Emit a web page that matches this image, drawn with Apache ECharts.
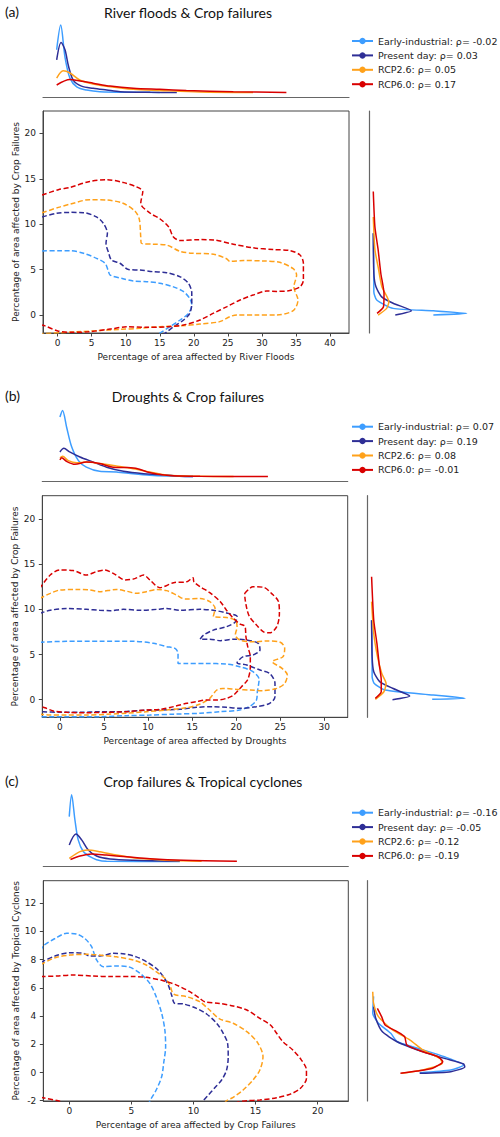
<!DOCTYPE html>
<html><head><meta charset="utf-8">
<script src="https://cdn.jsdelivr.net/npm/echarts@6/dist/echarts.min.js"></script>
<style>html,body{margin:0;padding:0;background:#fff}#c{width:500px;height:1137px}</style>
</head><body><div id="c"></div>
<script>
const scenarios = ['Early-industrial', 'Present day', 'RCP2.6', 'RCP6.0'];
const colors = ['#3d9dff', '#2e2e96', '#ffa11a', '#d90000'];
const panelLabels = ['(a)', '(b)', '(c)'];
const panelTitles = ['River floods & Crop failures', 'Droughts & Crop failures', 'Crop failures & Tropical cyclones'];
const xAxisNames = ['Percentage of area affected by River Floods', 'Percentage of area affected by Droughts', 'Percentage of area affected by Crop Failures'];
const yAxisNames = ['Percentage of area affected by Crop Failures', 'Percentage of area affected by Crop Failures', 'Percentage of area affected by Tropical Cyclones'];
const rhoA = ['-0.02', '0.03', '0.05', '0.17'];
const rhoB = ['0.07', '0.19', '0.08', '-0.01'];
const rhoC = ['-0.16', '-0.05', '-0.12', '-0.19'];
const xTicksA = [0, 5, 10, 15, 20, 25, 30, 35, 40];
const yTicksA = [0, 5, 10, 15, 20];
const xTicksB = [0, 5, 10, 15, 20, 25, 30];
const yTicksB = [0, 5, 10, 15, 20];
const xTicksC = [0, 5, 10, 15, 20];
const yTicksC = [-2, 0, 2, 4, 6, 8, 10, 12];

// ---- Panel (a) contours
const aContourEarly = [[-2.3,7.05],[0.1,7.08],[1.8,7.08],[3.8,6.8],[5.7,6.24],[6.95,5.7],[7.4,4.95],[7.7,4.4],[9.6,4.0],[11.1,3.74],[13.1,3.67],[15,3.5],[17,3.1],[18.5,2.57],[19.4,1.83],[19.7,1.1],[19.2,0.18],[18,-0.55],[16.5,-1.28],[15,-2.0],[14.6,-2.2]];
const aContourPresent = [[-2.3,10.8],[-0.15,11.2],[1.8,11.3],[3.8,11.27],[5.7,10.8],[6.7,10.1],[7.3,9.0],[7.1,7.9],[7.5,6.8],[7.9,6.05],[9.15,5.7],[10.4,5.0],[12.1,4.95],[14,4.77],[16,4.66],[18,4.2],[19.2,3.5],[19.7,2.4],[19.7,1.3],[19.4,0.18],[18.5,-0.55],[17,-1.3],[15.8,-2.0],[15.5,-2.2]];
const aContourRcp26 = [[-2.3,11.25],[0.1,11.85],[1.8,12.2],[4.7,12.7],[7.2,12.66],[9.6,12.3],[11.4,11.4],[12,10.5],[12.2,8.6],[12.3,7.9],[14,7.8],[16,7.7],[18,7.0],[19.9,6.8],[22.9,6.7],[24.8,6.2],[25.3,5.9],[27.3,6.0],[30.2,5.95],[32.6,5.8],[34.6,5.1],[35.1,4.4],[34.7,3.1],[35.3,1.65],[34.6,0.48],[32.2,0],[29.2,0],[26.3,0],[25.3,-0.18],[23.8,-0.73],[20.9,-1.0],[18,-1.2],[15,-1.28],[12.1,-1.47],[9.2,-1.58],[6.2,-1.7],[2.8,-1.85],[0.5,-1.95],[-2.3,-2.05]];
const aContourRcp60 = [[-2.3,13.2],[0.1,13.8],[1.8,14.05],[4.7,14.7],[7.2,14.9],[9.6,14.6],[11.6,14.1],[12.5,13.6],[12.2,12.3],[13.6,11.2],[15.0,10.6],[16.3,9.7],[17,8.6],[18,8.2],[20.9,8.3],[22.9,8.26],[25.8,7.8],[28.7,7.4],[31.7,7.2],[34.1,7.1],[35.6,6.6],[36.1,5.7],[36.1,3.85],[35.6,3.1],[34.1,2.7],[32.2,2.6],[30.7,2.64],[28.7,2.2],[26.8,1.65],[24.8,0.9],[22.9,0.2],[20.9,-0.55],[18.5,-1.1],[16,-1.3],[13.1,-1.36],[10.1,-1.3],[7.7,-1.55],[4.5,-1.85],[2,-1.9],[0,-1.75],[-1.86,-1.2],[-2.3,-1.1]];
// ---- Panel (a) marginals
const aTopEarly = [[-0.15,0.59],[0.44,0.93],[1.07,0.49],[1.8,0.2],[2.8,0.08],[4.25,0.036],[6.2,0.013],[11.1,0.005],[15,0.003]];
const aTopPresent = [[-0.15,0.45],[0.5,0.69],[1.07,0.59],[1.6,0.36],[2.3,0.17],[3.5,0.09],[5.2,0.06],[7.2,0.036],[9.2,0.013],[13.6,0.004],[17.5,0.002]];
const aTopRcp26 = [[-0.15,0.2],[0.8,0.3],[1.8,0.27],[3.3,0.17],[5.2,0.12],[7.7,0.08],[11.1,0.045],[15,0.03],[20.9,0.01],[28.7,0.003]];
const aTopRcp60 = [[-0.15,0.105],[1.8,0.18],[3.3,0.16],[5.2,0.13],[7.7,0.09],[11.1,0.06],[15,0.045],[18.9,0.03],[25.8,0.012],[33.6,0.003]];
const aRightEarly = [[0.005,9.0],[0.01,4.6],[0.01,2.57],[0.037,1.65],[0.19,0.73],[0.565,0.47],[0.876,0.18],[0.565,0]];
const aRightPresent = [[0.005,9.0],[0.01,4.6],[0.03,3.1],[0.083,2.0],[0.19,1.29],[0.36,0.47],[0.21,0]];
const aRightRcp26 = [[0.005,10.8],[0.02,7.2],[0.05,5.3],[0.085,3.1],[0.15,1.47],[0.13,0.73],[0.05,0]];
const aRightRcp60 = [[0.005,13.6],[0.02,9.7],[0.05,7.2],[0.075,4.6],[0.105,2.35],[0.1,0.91],[0.04,0.18]];

// ---- Panel (b) contours
const bContourEarly = [[-2.3,6.35],[0.76,6.46],[4.5,6.46],[8.3,6.46],[10.6,6.24],[12.1,5.87],[13.05,5.68],[13.4,5.13],[13.4,4.0],[14.4,4.0],[16.6,4.0],[18.9,3.95],[20.4,3.65],[21.9,3.1],[22.6,2.25],[22.5,1.44],[22.4,0.89],[22.3,-0.04],[21.6,-0.7],[20.4,-1.14],[18.2,-1.33],[15.9,-1.5],[12.9,-1.6],[10.2,-1.7],[7.6,-1.77],[4.5,-1.88],[0.76,-1.88],[-2.3,-1.88]];
const bContourPresent = [[-2.3,9.55],[-1.1,9.9],[0.76,10.1],[3,10.0],[4.5,9.9],[5.7,9.85],[7.2,10.0],[9.1,9.9],[11,10.0],[12.1,10.1],[13.6,9.9],[15.9,10.0],[17.4,9.9],[18.9,9.6],[20.1,9.2],[19.9,8.6],[18.9,8.08],[17.4,7.7],[16.3,7.16],[15.9,6.7],[17,6.7],[18.2,6.53],[19.7,6.7],[21.2,6.6],[22.5,6.24],[22.7,5.5],[21.9,4.94],[20.8,4.76],[20.1,4.1],[21.2,3.84],[22.7,3.28],[23.8,2.9],[24.4,1.8],[24.4,0.33],[23.8,-0.4],[22.3,-0.77],[20.4,-0.96],[18.9,-0.85],[17.4,-0.77],[15.5,-0.85],[13.6,-1.07],[11.35,-1.14],[9.1,-1.2],[6.8,-1.33],[4.5,-1.33],[2.3,-1.4],[0,-1.4],[-1.9,-1.33],[-2.3,-1.3]];
const bContourRcp26 = [[-2.3,11.2],[-1.1,11.77],[0,12.14],[1.9,12.2],[3.4,12.14],[4.5,11.96],[6.4,12.2],[7.6,12.0],[8.7,11.77],[9.8,11.96],[11,12.2],[12.1,12.07],[13.2,11.6],[14.2,11.14],[15.9,11.2],[17,10.85],[17.6,10.1],[17.4,9.2],[18.9,9.1],[19.9,8.8],[20.1,8.08],[19.9,7.16],[20.4,6.6],[21.9,6.4],[23.4,6.5],[25,6.35],[25.5,5.7],[25.3,4.76],[24.1,4.2],[25.2,3.47],[25.8,2.73],[25.5,1.8],[24.6,1.25],[23.1,1.0],[21.6,1.07],[20.1,1.14],[18.5,1.25],[17.8,1.07],[17,0.15],[15.9,-0.48],[14.4,-0.89],[12.1,-1.14],[9.8,-1.33],[7.6,-1.5],[5.3,-1.62],[3,-1.7],[0.76,-1.7],[-1.1,-1.7],[-2.3,-1.6]];
const bContourRcp60 = [[-2.3,12.3],[-1.1,13.8],[0,14.35],[1.5,14.3],[3.0,13.8],[4.2,14.2],[5.1,14.35],[6.2,13.9],[7.4,13.25],[8.5,13.4],[9.5,13.8],[10.2,13.25],[11.35,12.4],[12.9,12.95],[14.4,13.06],[15.1,13.5],[15.2,13.06],[15.9,12.5],[17,11.85],[18.2,10.85],[18.9,9.9],[19.7,9.0],[20.4,8.4],[21,8.1],[21.1,7.0],[21.3,5.9],[21.6,4.76],[21.6,3.65],[21.3,2.2],[20.6,1.44],[19.7,0.5],[18.9,0.15],[17.8,-0.04],[16.6,-0.04],[15.5,-0.22],[14.4,-0.4],[12.9,-0.77],[11.35,-1.07],[9.8,-1.14],[7.6,-1.33],[5.3,-1.4],[3.0,-1.44],[0.76,-1.4],[-0.76,-1.25],[-1.7,-0.9],[-2.3,-0.7]];
const bContourRcp60Island = [[20.97,11.77],[21.9,12.5],[23.1,12.44],[24,11.77],[24.8,10.85],[24.9,9.55],[24.6,8.08],[23.8,7.4],[23.1,7.5],[22.3,8.27],[21.5,9.2],[21.2,10.1],[21,11.2],[20.97,11.77]];
// ---- Panel (b) marginals
const bTopEarly = [[0,0.82],[0.3,0.91],[0.76,0.68],[1.33,0.41],[2.1,0.22],[3.0,0.13],[4.5,0.073],[6.4,0.065],[8.3,0.04],[10.2,0.02],[12.1,0.01],[15.1,0.003]];
const bTopPresent = [[0,0.34],[0.45,0.39],[1.1,0.34],[2.27,0.27],[3.8,0.2],[5.3,0.13],[7.2,0.073],[9.5,0.04],[11.3,0.03],[13.6,0.005],[15.1,0.002]];
const bTopRcp26 = [[0,0.26],[0.3,0.28],[0.95,0.22],[1.9,0.19],[3.0,0.2],[4.5,0.18],[6.4,0.146],[8.3,0.11],[10.2,0.065],[12.1,0.02],[15.9,0.005],[19.7,0.002]];
const bTopRcp60 = [[0,0.23],[0.2,0.26],[0.76,0.21],[1.7,0.17],[3.0,0.2],[4.5,0.18],[6.05,0.13],[7.6,0.125],[8.8,0.11],[9.9,0.065],[12.1,0.02],[15.9,0.005],[23.6,0.002]];
const bRightEarly = [[0.005,8.8],[0.01,4.76],[0.01,2.55],[0.03,1.8],[0.13,1.07],[0.58,0.52],[0.877,0.15],[0.57,0.04]];
const bRightPresent = [[0.005,8.8],[0.01,4.76],[0.025,3.1],[0.08,2.0],[0.2,1.26],[0.36,0.41],[0.2,0]];
const bRightRcp26 = [[0.005,10.85],[0.025,7.35],[0.06,4.76],[0.1,2.9],[0.14,1.8],[0.12,0.88],[0.04,0.04]];
const bRightRcp60 = [[0.005,13.6],[0.025,8.8],[0.055,6.2],[0.075,4.0],[0.095,2.2],[0.095,0.88],[0.04,0.15]];

// ---- Panel (c) contours
const cContourEarly = [[-2.3,8.6],[-2.1,8.97],[-1.15,9.5],[-0.2,9.87],[0.6,9.82],[1.26,9.5],[1.8,8.92],[2.2,7.98],[2.74,7.5],[3.8,7.55],[4.75,7.5],[5.7,7.03],[6.5,6.3],[7.0,5.38],[7.44,4.2],[7.7,3.0],[7.76,1.83],[7.6,0.65],[7.44,-0.3],[7.0,-1.24],[6.5,-2.0],[6.4,-2.2]];
const cContourPresent = [[-2.3,7.8],[-1.15,8.26],[0.05,8.5],[1.13,8.45],[1.66,8.26],[2.47,8.26],[3.54,8.45],[4.48,8.4],[5.4,8.2],[6.2,7.86],[7.0,7.39],[7.57,6.8],[7.97,6.2],[8.24,5.5],[8.5,4.9],[9.2,4.86],[10.25,4.55],[11.06,4.15],[11.87,3.49],[12.4,2.78],[12.75,2.07],[12.8,1.12],[12.67,0.18],[12.27,-0.53],[11.7,-1.1],[11.2,-1.6],[10.8,-2.0],[10.7,-2.2]];
const cContourRcp26 = [[-2.3,7.65],[-1.15,8.14],[0.05,8.33],[1.4,8.38],[2.74,8.3],[3.8,8.2],[5.15,7.98],[6.2,7.62],[7.0,7.15],[7.7,6.68],[8.1,6.2],[8.4,5.57],[9.45,5.38],[10.5,5.02],[11.3,4.43],[12.1,3.8],[13.2,3.49],[14.3,2.9],[15.2,2.07],[15.6,1.12],[15.35,0.18],[14.8,-0.53],[14.0,-1.24],[13.2,-1.76],[12.67,-2.0],[12.5,-2.2]];
const cContourRcp60 = [[-2.3,6.8],[-1.0,6.84],[0.32,6.91],[1.93,6.84],[3.27,6.8],[5.15,6.8],[6.2,6.75],[7.57,6.51],[8.64,6.2],[9.7,5.73],[10.5,5.26],[10.9,5.02],[12.1,4.9],[13.2,4.72],[14.3,4.43],[15.35,3.84],[16.2,3.37],[16.7,2.78],[17.2,2.19],[18.0,1.6],[18.7,0.88],[19.1,0.18],[19.1,-0.42],[18.6,-1.13],[17.8,-1.53],[16.7,-1.79],[15.35,-1.95],[14.3,-2.0],[13.5,-2.1]];
const cContourRcp60Corner = [[-2.3,-1.75],[-2.1,-1.79],[-0.9,-2.0],[-0.6,-2.1]];
// ---- Panel (c) marginals
const cTopEarly = [[0,0.62],[0.19,0.92],[0.46,0.57],[0.72,0.3],[1.13,0.14],[1.67,0.068],[2.2,0.027],[3.0,0.005],[8.9,0.002]];
const cTopPresent = [[0,0.23],[0.54,0.38],[1.0,0.3],[1.53,0.16],[2.2,0.077],[3.28,0.036],[5.15,0.018],[8.9,0.005]];
const cTopRcp26 = [[0,0.045],[0.86,0.137],[1.45,0.16],[2.47,0.137],[3.8,0.09],[5.15,0.054],[6.5,0.036],[7.85,0.018],[10.66,0.005]];
const cTopRcp60 = [[0.1,0.03],[0.86,0.077],[1.8,0.105],[3.0,0.09],[4.6,0.068],[6.5,0.04],[9.2,0.018],[13.5,0.005]];
const cRightEarly = [[0.02,5.4],[0.012,4.2],[0.065,3.5],[0.18,2.78],[0.24,2.18],[0.43,1.72],[0.68,1.12],[0.86,0.53],[0.74,0.18],[0.45,-0.01]];
const cRightPresent = [[0.02,4.67],[0.04,3.84],[0.1,2.9],[0.24,2.18],[0.43,1.6],[0.68,1.0],[0.86,0.6],[0.87,0.39],[0.74,0.06],[0.45,-0.06]];
const cRightRcp26 = [[0.012,5.73],[0.02,4.9],[0.065,3.96],[0.2,3.0],[0.36,2.3],[0.48,1.6],[0.64,1.0],[0.66,0.65],[0.48,0.18],[0.28,-0.06]];
const cRightRcp60 = [[0.055,4.55],[0.095,3.96],[0.127,3.37],[0.24,2.9],[0.31,2.54],[0.33,1.95],[0.48,1.47],[0.62,1.12],[0.665,0.77],[0.57,0.3],[0.43,0.1],[0.27,-0.06]];

// ---------------- layout ----------------
const FONT = 'DejaVu Sans';
const panels = [
  { rho: rhoA, xr: [-2.16, 42.8], yr: [-1.98, 22.46], xt: xTicksA, yt: yTicksA,
    main: [43, 111, 306, 222], top: [43, 20, 306, 77], right: [369, 111, 111, 222],
    legendTop: 31, labelY: 12.5, titleX: 188,
    contours: [aContourEarly, aContourPresent, aContourRcp26, aContourRcp60], extra: [],
    tops: [aTopEarly, aTopPresent, aTopRcp26, aTopRcp60], rights: [aRightEarly, aRightPresent, aRightRcp26, aRightRcp60] },
  { rho: rhoB, xr: [-2.0, 32.65], yr: [-1.95, 22.58], xt: xTicksB, yt: yTicksB,
    main: [42.3, 495.7, 305.4, 221.6], top: [42.3, 404, 305.4, 77], right: [367.3, 495.7, 111, 221.6],
    legendTop: 416.7, labelY: 396, titleX: 188,
    contours: [bContourEarly, bContourPresent, bContourRcp26, bContourRcp60], extra: [[bContourRcp60Island, 3]],
    tops: [bTopEarly, bTopPresent, bTopRcp26, bTopRcp60], rights: [bRightEarly, bRightPresent, bRightRcp26, bRightRcp60] },
  { rho: rhoC, xr: [-2.09, 22.47], yr: [-2.02, 13.6], xt: xTicksC, yt: yTicksC,
    main: [43.3, 880.7, 305, 220.3], top: [43.3, 789, 305, 77], right: [367.7, 880.7, 111, 220.3],
    legendTop: 802.7, labelY: 781.7, titleX: 203,
    contours: [cContourEarly, cContourPresent, cContourRcp26, cContourRcp60], extra: [[cContourRcp60Corner, 3]],
    tops: [cTopEarly, cTopPresent, cTopRcp26, cTopRcp60], rights: [cRightEarly, cRightPresent, cRightRcp26, cRightRcp60] }
];

const grid = [], xAxis = [], yAxis = [], series = [], legend = [], graphic = [];
const g = (r) => ({ left: r[0], top: r[1], width: r[2], height: r[3] });
panels.forEach((p, pi) => {
  const base = pi * 3;
  // main
  grid.push(Object.assign(g(p.main), { show: true, borderColor: '#444', borderWidth: 1, backgroundColor: 'transparent' }));
  xAxis.push({ gridIndex: base, type: 'value', min: p.xr[0], max: p.xr[1],
    name: xAxisNames[pi], nameLocation: 'middle', nameGap: 19.5, nameMoveOverlap: false,
    nameTextStyle: { fontFamily: FONT, fontSize: 9, color: '#222' },
    axisLine: { show: true, onZero: false, lineStyle: { color: '#444', width: 1 } },
    axisTick: { show: true, length: 3.5, customValues: p.xt, lineStyle: { color: '#444' } },
    axisLabel: { customValues: p.xt, margin: 5.5, fontFamily: FONT, fontSize: 9, color: '#222' },
    splitLine: { show: false } });
  yAxis.push({ gridIndex: base, type: 'value', min: p.yr[0], max: p.yr[1],
    name: yAxisNames[pi], nameLocation: 'middle', nameGap: 23, nameRotate: 90, nameMoveOverlap: false,
    nameTextStyle: { fontFamily: FONT, fontSize: 9, color: '#222' },
    axisLine: { show: true, onZero: false, lineStyle: { color: '#444', width: 1 } },
    axisTick: { show: true, length: 3.5, customValues: p.yt, lineStyle: { color: '#444' } },
    axisLabel: { customValues: p.yt, margin: 7, fontFamily: FONT, fontSize: 9, color: '#222' },
    splitLine: { show: false } });
  // top marginal
  grid.push(g(p.top));
  xAxis.push({ gridIndex: base + 1, type: 'value', min: p.xr[0], max: p.xr[1],
    axisLine: { show: true, onZero: false, lineStyle: { color: '#666', width: 1.2 } },
    axisTick: { show: false }, axisLabel: { show: false }, splitLine: { show: false } });
  yAxis.push({ gridIndex: base + 1, type: 'value', min: -0.06, max: 1, show: false });
  // right marginal
  grid.push(g(p.right));
  xAxis.push({ gridIndex: base + 2, type: 'value', min: -0.035, max: 1, show: false });
  yAxis.push({ gridIndex: base + 2, type: 'value', min: p.yr[0], max: p.yr[1],
    axisLine: { show: true, onZero: false, lineStyle: { color: '#666', width: 1.2 } },
    axisTick: { show: false }, axisLabel: { show: false }, splitLine: { show: false } });

  const names = scenarios.map((s, i) => s + ': ρ= ' + p.rho[i]);
  scenarios.forEach((s, i) => {
    series.push({ type: 'line', name: names[i] + ' ', xAxisIndex: base, yAxisIndex: base, data: p.contours[i],
      smooth: 0.3, symbol: 'none', silent: true, animation: false,
      lineStyle: { color: colors[i], width: 1.5, type: [5, 2.5] } });
  });
  p.extra.forEach(([d, i]) => {
    series.push({ type: 'line', name: 'extra' + pi, xAxisIndex: base, yAxisIndex: base, data: d,
      smooth: 0.3, symbol: 'none', silent: true, animation: false,
      lineStyle: { color: colors[i], width: 1.5, type: [5, 2.5] } });
  });
  scenarios.forEach((s, i) => {
    series.push({ type: 'line', name: names[i], xAxisIndex: base + 1, yAxisIndex: base + 1, data: p.tops[i],
      smooth: 0.3, symbol: 'circle', showSymbol: false, silent: true, animation: false,
      itemStyle: { color: colors[i] },
      lineStyle: { color: colors[i], width: 1.5 } });
    series.push({ type: 'line', name: names[i] + '  ', xAxisIndex: base + 2, yAxisIndex: base + 2, data: p.rights[i],
      smooth: 0.2, symbol: 'none', silent: true, animation: false,
      lineStyle: { color: colors[i], width: 1.5 } });
  });
  legend.push({ orient: 'vertical', left: 346, top: p.legendTop, itemWidth: 21, itemHeight: 8, itemGap: 4.4,
    data: names, selectedMode: false, lineStyle: { width: 2 },
    textStyle: { fontFamily: FONT, fontSize: 9.5, color: '#222', lineHeight: 10 } });
  graphic.push({ type: 'text', left: 5, top: p.labelY - 8, style: { text: panelLabels[pi], font: '14px Lato', fill: '#111' } });
  graphic.push({ type: 'text', x: p.titleX, y: p.labelY, style: { text: panelTitles[pi], font: '14px Lato', fill: '#111', textAlign: 'center', textVerticalAlign: 'middle' } });
});

const chart = echarts.init(document.getElementById('c'), null, { renderer: 'svg' });
chart.setOption({ animation: false, backgroundColor: '#fff', grid, xAxis, yAxis, series, legend, graphic });
</script></body></html>
